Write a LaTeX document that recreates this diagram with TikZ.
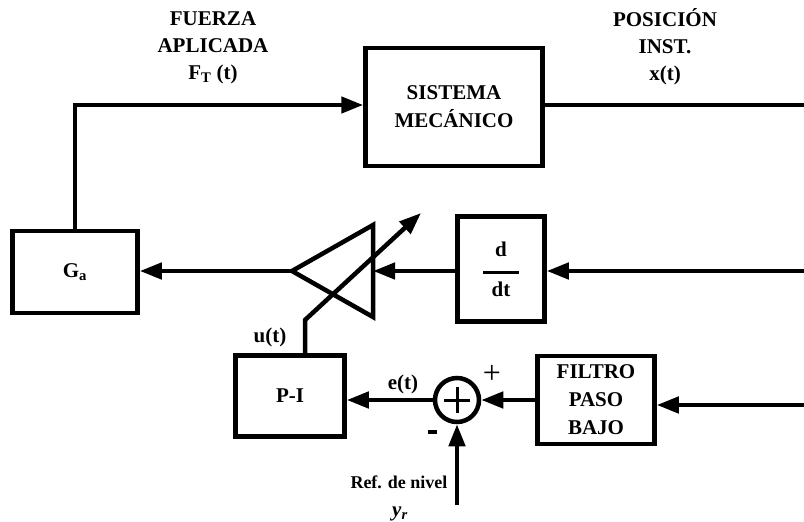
\documentclass[tikz,border=0pt]{standalone}
\usepackage{fontspec}
\setmainfont{Liberation Serif}
\usetikzlibrary{arrows.meta}
\begin{document}
\begin{tikzpicture}[x=1pt,y=-1pt,
  blk/.style={draw, line width=4.5pt, inner sep=0pt, font=\fontsize{21}{28}\selectfont\bfseries, align=center},
  wire/.style={line width=4.5pt},
  arr/.style={wire, -{Triangle[length=22pt,width=16pt]}},
  lbl/.style={font=\fontsize{21}{27}\selectfont\bfseries, align=center, inner sep=0pt}]
\useasboundingbox (0,0) rectangle (804,522);
% blocks
\node[blk, minimum width=177pt, minimum height=118pt] (sis) at (454,107) {SISTEMA\\MECÁNICO};
\node[blk, minimum width=125pt, minimum height=82pt] (ga) at (75,272) {G\textsubscript{a}};
\node[blk, minimum width=87pt, minimum height=105pt] (dd) at (501,269) {d\\[-10pt]\rule{36pt}{3pt}\\[-6pt]dt};
\node[blk, minimum width=109pt, minimum height=81pt] (pi) at (290,396) {P-I};
\node[blk, minimum width=117pt, minimum height=88pt] (fil) at (596,400) {FILTRO\\PASO\\BAJO};
\node[draw, circle, line width=4.5pt, minimum size=44pt, inner sep=0pt] (sum) at (457,400) {};
\draw[line width=3pt] ([xshift=-13pt]sum.center) -- ([xshift=13pt]sum.center)
  ([yshift=-13pt]sum.center) -- ([yshift=13pt]sum.center);
% labels
\node[lbl] (lf) at (213,48) {FUERZA\\APLICADA\\F\textsubscript{T} (t)};
\node[lbl] (lx) at (665,47) {POSICIÓN\\INST.\\x(t)};
\node[lbl] (lu) at (270,337) {u(t)};
\node[lbl] (le) at (403,384) {e(t)};
\node[inner sep=0pt, font=\fontsize{32}{32}\selectfont] (lp) at (492,374) {+};
\node[inner sep=0pt] (lm) at (432,432) {\rule{9pt}{4pt}};
\node[lbl, font=\fontsize{18}{22}\selectfont\bfseries] (lr) at (399,482) {Ref. de nivel};
\node[lbl] (ly) at (400,514) {\itshape y\textsubscript{r}};
% triangle amplifier
\coordinate (tA) at (292,271);
\coordinate (tT) at (373,225);
\coordinate (tB) at (373,317);
\draw[wire, line join=miter] (tA) -- (tT) -- (tB) -- cycle;
% connectors
\coordinate (xR) at (804,105);
\coordinate (dR) at (804,271);
\coordinate (fR) at (804,405);
\coordinate (ref) at (457,505);
\coordinate (uB) at (305,320);
\coordinate (uT) at (421,213);
\draw[arr] (ga.north) |- (sis.west |- xR);
\draw[wire] (sis.east |- xR) -- (xR);
\draw[arr] (dR) -- (dd.east |- dR);
\draw[arr] (dd.west |- dR) -- (tB |- dR);
\draw[arr] (tA) -- (ga.east |- tA);
\draw[arr] (fR) -- (fil.east |- fR);
\draw[arr] (fil.west |- sum) -- (sum.east);
\draw[arr] (sum.west) -- (pi.east |- sum);
\draw[arr] (ref) -- (sum.south);
\draw[arr, line join=miter] (pi.north -| uB) -- (uB) -- (uT);
\end{tikzpicture}
\end{document}
